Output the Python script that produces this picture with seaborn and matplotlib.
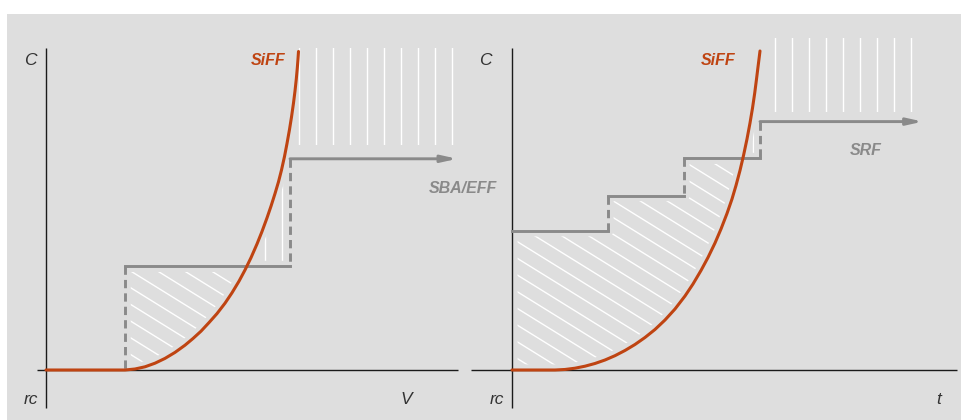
import numpy as np
import matplotlib
matplotlib.use("Agg")
import matplotlib.pyplot as plt
from matplotlib.patches import Polygon
from matplotlib.collections import LineCollection
import seaborn as sns

# ---------------- data (schematic values) ----------------
# Left panel: cost C versus volume V
siff_v_x = [0.0, 1.975, 2.225, 2.475, 2.725, 2.975, 3.225, 3.475, 3.675, 3.875, 4.075,
            4.275, 4.475, 4.65, 4.825, 4.975, 5.125, 5.275, 5.4, 5.525, 5.625, 5.725,
            5.8125, 5.8875, 5.9625, 6.025, 6.0875, 6.1375, 6.1875, 6.225, 6.2575,
            6.2825, 6.3, 6.3125]
siff_v_y = [0.0, 0.0, 0.025, 0.08, 0.17, 0.29, 0.44, 0.62, 0.7875, 0.97, 1.185,
            1.41, 1.67, 1.93, 2.22, 2.5, 2.8075, 3.15, 3.4625, 3.8025, 4.095, 4.41,
            4.705, 5.0, 5.3375, 5.6625, 6.0125, 6.325, 6.675, 6.975, 7.275,
            7.55, 7.775, 7.9625]
sba_edges = [1.98, 6.10]
sba_levels = [2.59, 5.28]
sba_end = 10.28

# Right panel: cost C versus time t
siff_t_x = [0.0, 1.075, 1.325, 1.575, 1.825, 2.075, 2.325, 2.575, 2.825, 3.075, 3.325,
            3.575, 3.825, 4.075, 4.325, 4.525, 4.725, 4.9, 5.075, 5.225, 5.375, 5.5,
            5.6, 5.7, 5.788, 5.875, 5.95, 6.013, 6.068, 6.113, 6.15, 6.18, 6.2]
siff_t_y = [0.0, 0.0, 0.013, 0.045, 0.095, 0.163, 0.25, 0.358, 0.488, 0.638, 0.813,
            1.013, 1.25, 1.525, 1.85, 2.15, 2.488, 2.813, 3.175, 3.525, 3.913, 4.275,
            4.613, 4.988, 5.363, 5.775, 6.175, 6.55, 6.925, 7.275, 7.575, 7.813, 7.975]
srf_edges = [0.0, 2.40, 4.30, 6.20]
srf_levels = [3.48, 4.36, 5.29, 6.21]
srf_end = 10.27

left_labels = ["C", "rc", "V"]
right_labels = ["C", "rc", "t"]
curve_label = "SiFF"
left_step_label = "SBA/EFF"
right_step_label = "SRF"

# ---------------- style ----------------
sns.set_style("white")
plt.rcParams["font.family"] = ["Liberation Sans", "DejaVu Sans"]

W, H = 962, 420
S = 40.0            # pixels per data unit
TOP = 14
BG = "#dedede"
CURVE = "#bf4412"
STEP = "#8a8a8a"
AXC = "#1a1a1a"
TXT = "#333333"

fig = plt.figure(figsize=(W / 100, H / 100), dpi=100, facecolor="white")


def make_axes(px0, px1, ox, oy):
    ax = fig.add_axes([px0 / W, 0, (px1 - px0) / W, (H - TOP) / H])
    ax.set_facecolor(BG)
    for s in ax.spines.values():
        s.set_visible(False)
    ax.set_xticks([])
    ax.set_yticks([])
    lims = ((px0 - ox) / S, (px1 - ox) / S), ((oy - H) / S, (oy - TOP) / S)
    return ax, lims


def hatch(ax, poly, segs, lw=1.0, margin=True):
    patch = Polygon(poly, closed=True, transform=ax.transData,
                    facecolor="none", edgecolor="none")
    lc = LineCollection(segs, colors="white", linewidths=lw, zorder=1,
                        capstyle="butt")
    ax.add_collection(lc, autolim=False)
    lc.set_clip_path(patch)
    if margin:
        # keep the hatch a few pixels away from the region's borders
        ax.add_patch(Polygon(poly, closed=True, facecolor="none", edgecolor=BG,
                             lw=8, joinstyle="round", zorder=1.5))


def diag_segs(ax_x, ax_y, slope=0.62, gap=0.4175):
    c0 = ax_y + slope * ax_x
    return [[(-3, c0 + k * gap + slope * 3), (13, c0 + k * gap - slope * 13)]
            for k in range(-30, 30)]


def vert_segs(x0, x1, gap=0.425):
    return [[(x, -3), (x, 12)] for x in np.arange(x0, x1, gap)]


def draw_axes_lines(ax, xl, xr):
    ax.plot([xl, xr], [0, 0], color=AXC, lw=1.0, zorder=2, solid_capstyle="butt")
    ax.plot([0, 0], [-0.95, 8.05], color=AXC, lw=1.0, zorder=2, solid_capstyle="butt")


def dashed(ax, x, ytop, ybot):
    ax.plot([x, x], [ytop, ybot], color=STEP, lw=2.1, zorder=3,
            linestyle=(0, (2.85, 1.75)), dash_capstyle="butt")


def solid(ax, x0, x1, y):
    ax.plot([x0, x1], [y, y], color=STEP, lw=2.1, zorder=3, solid_capstyle="projecting")


def arrow(ax, x0, x1, y):
    ax.annotate("", xy=(x1, y), xytext=(x0, y),
                arrowprops=dict(arrowstyle="-|>,head_length=0.9,head_width=0.2",
                                color=STEP, lw=2.1, shrinkA=0, shrinkB=0),
                zorder=3)


bold_kw = dict(fontsize=11.5, fontweight="bold", fontstyle="italic", va="baseline")
lab_kw = dict(fontsize=12.5, fontstyle="italic", color=TXT, va="baseline", ha="center")

# ================= left panel =================
axL, (xlimL, ylimL) = make_axes(7, 465, 46, 370)
axL.set_zorder(2)
lx, ly = np.array(siff_v_x), np.array(siff_v_y)
E0, E1 = sba_edges
L0, L1 = sba_levels

# diagonal hatch: step above curve
xc0 = np.interp(L0, ly[1:], lx[1:])
m = (lx > E0) & (ly < L0)
poly = [(E0, 0)] + list(zip(lx[m], ly[m])) + [(xc0, L0), (E0, L0)]
hatch(axL, poly, diag_segs(2.1, 2.067))

# vertical hatch: curve above step
xc1 = np.interp(L1, ly[1:], lx[1:])
m = (ly > L0) & (ly < L1)
poly = [(xc0, L0)] + list(zip(lx[m], ly[m])) + [(xc1, L1), (E1, L1), (E1, L0)]
hatch(axL, poly, vert_segs(5.4675, 6.1))

yb = 5.625
xb = np.interp(yb, ly[1:], lx[1:])
m = ly > yb
poly = [(xb, yb)] + list(zip(lx[m], ly[m])) + [(lx[-1], 8.05), (10.25, 8.05), (10.25, yb)]
hatch(axL, poly, vert_segs(5.4675, 10.25), margin=False)

draw_axes_lines(axL, -0.225, 10.3)
dashed(axL, E0, L0, 0.0)
solid(axL, E0, E1, L0)
dashed(axL, E1, L1, L0)
arrow(axL, E1, sba_end, L1)

sns.lineplot(x=siff_v_x, y=siff_v_y, ax=axL, color=CURVE, lw=2.2, sort=False,
             estimator=None, zorder=4)

axL.text(-0.4, 7.625, left_labels[0], **lab_kw)
axL.text(-0.375, -0.86, left_labels[1], **lab_kw)
axL.text(9.0, -0.86, left_labels[2], **lab_kw)
axL.text(5.975, 7.625, curve_label, color=CURVE, ha="right", **bold_kw)
axL.text(11.275, 4.43, left_step_label, color=STEP, ha="right", clip_on=False,
         zorder=10, **bold_kw)
axL.set_xlim(*xlimL)
axL.set_ylim(*ylimL)

# ================= right panel =================
axR, (xlimR, ylimR) = make_axes(465, 962, 512, 370)
axR.set_zorder(1)
rx, ry = np.array(siff_t_x), np.array(siff_t_y)
F0, F1, F2, F3 = srf_edges
M0, M1, M2, M3 = srf_levels

xcr = np.interp(M2, ry[1:], rx[1:])
m = ry < M2
poly = list(zip(rx[m], ry[m])) + [(xcr, M2), (F2, M2), (F2, M1), (F1, M1), (F1, M0), (F0, M0)]
hatch(axR, poly, diag_segs(0.2, 3.167))

xcr3 = np.interp(M3, ry[1:], rx[1:])
m = (ry > M2) & (ry < M3)
poly = [(xcr, M2)] + list(zip(rx[m], ry[m])) + [(xcr3, M3), (F3, M3), (F3, M2)]
hatch(axR, poly, vert_segs(6.0175, 6.2))

poly = [(6.45, 6.45), (6.45, 8.3), (10.1, 8.3), (10.1, 6.45)]
hatch(axR, poly, vert_segs(6.5675, 10.1), margin=False)

draw_axes_lines(axR, -1.025, 11.125)
solid(axR, F0, F1, M0)
dashed(axR, F1, M1, M0)
solid(axR, F1, F2, M1)
dashed(axR, F2, M2, M1)
solid(axR, F2, F3, M2)
dashed(axR, F3, M3, M2)
arrow(axR, F3, srf_end, M3)

sns.lineplot(x=siff_t_x, y=siff_t_y, ax=axR, color=CURVE, lw=2.2, sort=False,
             estimator=None, zorder=4)

axR.text(-0.675, 7.625, right_labels[0], **lab_kw)
axR.text(-0.375, -0.86, right_labels[1], **lab_kw)
axR.text(10.675, -0.86, right_labels[2], **lab_kw)
axR.text(5.575, 7.625, curve_label, color=CURVE, ha="right", **bold_kw)
axR.text(8.85, 5.375, right_step_label, color=STEP, ha="center", **bold_kw)
axR.set_xlim(*xlimR)
axR.set_ylim(*ylimR)

fig.savefig("out.png", dpi=100, facecolor="white")
